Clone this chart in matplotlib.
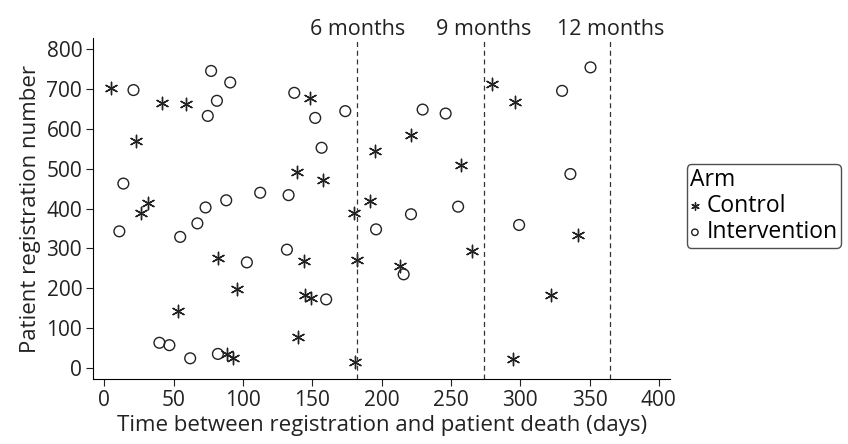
import numpy as np
import matplotlib
matplotlib.use("Agg")
import matplotlib.pyplot as plt

plt.rcParams['font.family'] = ['Open Sans', 'DejaVu Sans']

# days from registration to death, and patient registration number
control_days = [4.8, 41.9, 59, 22.9, 31.3, 26.5, 82.3, 96, 53.4, 88.4, 92.7,
                148.5, 221.4, 195, 257.5, 138.9, 157.7, 191.8, 179.8, 143.7,
                182.2, 213, 265.3, 144.9, 149, 140, 181, 279.7, 296.5, 341.8,
                322.3, 294.6]
control_reg = [704, 666, 662, 570, 415, 389, 276, 197, 143, 36, 25,
               679, 585, 545, 509, 491, 472, 420, 390, 269,
               271, 256, 294, 184, 176, 78, 14, 714, 668, 333,
               183, 21]

interv_days = [21, 77, 90.8, 81.2, 74.6, 13.7, 73, 87.9, 112.4, 10.8, 67.1,
               54.7, 102.8, 39.7, 46.9, 61.9, 81.9, 137, 152.1, 173.8, 229.6,
               246.2, 156.7, 132.9, 221.2, 255.2, 196, 131.7, 215.9, 160,
               350.7, 330.2, 336.2, 299.2]
interv_reg = [698, 746, 717, 671, 633, 463, 403, 421, 440, 343, 363,
              329, 265, 63, 57, 24, 35, 691, 628, 645, 649,
              639, 553, 434, 386, 405, 348, 297, 235, 172,
              755, 696, 487, 359]

cutoffs = [182.5, 274, 365]
cutoff_labels = ['6 months', '9 months', '12 months']

ink = '#222222'

fig = plt.figure(figsize=(8.48, 4.44), dpi=100)
ax = fig.add_axes([0.110, 0.1464, 0.680, 0.7673])

ax.scatter(control_days, control_reg, marker=(6, 2, 0), s=80, c=ink,
           linewidths=1.0, label='Control')
ax.scatter(interv_days, interv_reg, marker='o', s=60, facecolors='none',
           edgecolors=ink, linewidths=1.0, label='Intervention')

for c, lab in zip(cutoffs, cutoff_labels):
    ax.axvline(c, color='#333333', lw=0.9, ls=(0, (4, 3)))
    ax.text(c, 1.01, lab, transform=ax.get_xaxis_transform(), ha='center',
            va='baseline', fontsize=15.5, color=ink)

ax.set_xlim(-8, 408)
ax.set_ylim(-28, 828)
ax.set_xticks(np.arange(0, 401, 50))
ax.set_yticks(np.arange(0, 801, 100))
ax.spines['top'].set_visible(False)
ax.spines['right'].set_visible(False)
ax.tick_params(labelsize=15, length=5, colors=ink, pad=3)
ax.set_xlabel('Time between registration and patient death (days)', fontsize=16,
              color=ink, labelpad=3)
ax.set_ylabel('Patient registration number', fontsize=16, color=ink, labelpad=4)

leg = fig.legend(loc='upper left', bbox_to_anchor=(0.81, 0.63), title='Arm',
                 fontsize=16.5, title_fontsize=16.5, frameon=True, fancybox=True,
                 edgecolor=ink, handletextpad=0.3, handlelength=0.4,
                 borderpad=0.15, labelspacing=0.1, markerscale=0.6,
                 borderaxespad=0)
leg._legend_box.align = 'left'
leg.get_frame().set_linewidth(1)

fig.savefig('out.png', dpi=100)
